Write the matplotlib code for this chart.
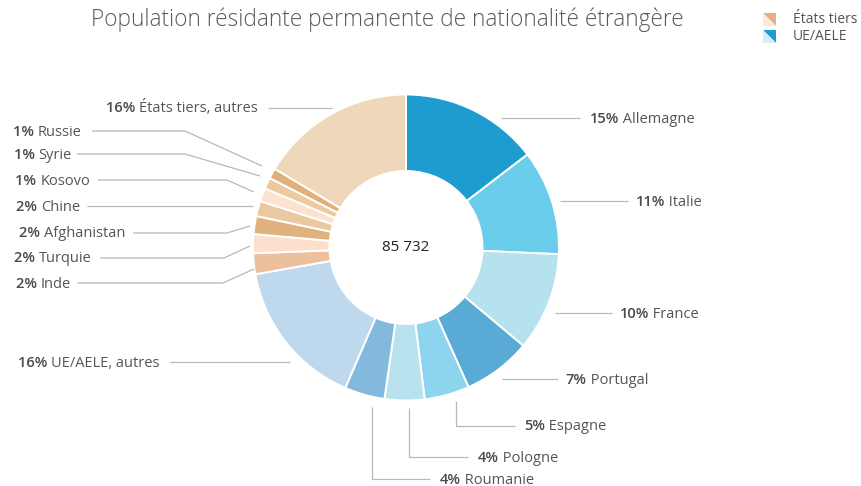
import matplotlib
matplotlib.use("Agg")
import matplotlib.pyplot as plt
from matplotlib.patches import Polygon

# ── data ──────────────────────────────────────────────────────────────────────
TOTAL = "85 732"
names = ["Allemagne", "Italie", "France", "Portugal", "Espagne", "Pologne",
         "Roumanie", "UE/AELE, autres", "Inde", "Turquie", "Afghanistan",
         "Chine", "Kosovo", "Syrie", "Russie", "États tiers, autres"]
shares = [14.6, 11.1, 10.4, 7.2, 4.75, 4.2, 4.25, 15.7,
          2.2, 2.0, 1.9, 1.6, 1.4, 1.2, 1.1, 16.4]
colors = ["#1e9bcf", "#6acdec", "#b6e2ef", "#5aaad6", "#8dd5ee", "#b7e2ee",
          "#84b9de", "#bed8ee", "#ebc09c", "#fde0cb", "#e0b27f", "#eac8a0",
          "#fde2d0", "#ebcaa0", "#e0b07c", "#eed8b9"]
legend_names = ["États tiers", "UE/AELE"]
legend_cols = [("#e3b27f", "#fbe8d6"), ("#1e9bcf", "#d6eef8")]

# ── layout (pixel coordinates) ───────────────────────────────────────────────
CX, CY, R = 406, 247.5, 153
# side, text anchor x, y, leader polyline
label_layout = [
    ("r", 590, 118, [(501, 118), (580, 118)]),
    ("r", 636, 201, [(560, 201), (628, 201)]),
    ("r", 620, 313, [(555, 313), (612, 313)]),
    ("r", 566, 379, [(502, 379), (558, 379)]),
    ("r", 524, 426, [(456, 401), (456, 426), (515, 426)]),
    ("r", 478, 457, [(409, 408), (409, 457), (468, 457)]),
    ("r", 440, 479, [(372, 407), (372, 479), (430, 479)]),
    ("l", 160, 362, [(170, 362), (290, 362)]),
    ("l", 71, 283, [(77, 283), (223, 283), (254, 269)]),
    ("l", 92, 257, [(100, 258), (224, 258), (250, 246)]),
    ("l", 125, 232, [(133, 233), (227, 233), (250, 226)]),
    ("l", 80, 206, [(87, 206), (253, 206)]),
    ("l", 90, 180, [(98, 180), (227, 180), (254, 192)]),
    ("l", 72, 154, [(77, 154), (185, 154), (260, 176)]),
    ("l", 82, 131, [(92, 131), (185, 131), (262, 166)]),
    ("l", 258, 107, [(268, 108), (332, 108)]),
]

FONT = "Open Sans"
TXT = "#555555"
FS = 10.5
BASE = 4.5   # baseline offset below the line y (px)

fig = plt.figure(figsize=(8.62, 4.86), dpi=100)
ax = fig.add_axes([0, 0, 1, 1])

ax.pie(shares, colors=colors, center=(CX, CY), radius=R,
       startangle=-90, counterclock=True,
       wedgeprops=dict(width=R * 0.5, edgecolor="white", linewidth=1.4))
ax.set_xlim(0, 862)
ax.set_ylim(486, 0)
ax.set_aspect("equal")
ax.axis("off")

ax.text(CX, CY, TOTAL, ha="center", va="center", fontsize=11,
        color="#222222", family=FONT)

ax.text(387, 20, "Population résidante permanente de nationalité étrangère",
        ha="center", va="center", fontsize=16.3, color="#5a5a5a",
        family=FONT, fontweight="light")

# ── labels with leader lines ─────────────────────────────────────────────────
for name, val, (side, tx, ty, pts) in zip(names, shares, label_layout):
    xs, ys = zip(*pts)
    ax.plot(xs, ys, color="#b8b8b8", linewidth=0.9, solid_capstyle="butt")
    pct = f"{round(val):.0f}%"
    yb = ty + BASE
    if side == "r":
        p = ax.text(tx, yb, pct, ha="left", va="baseline", fontsize=FS,
                    color="#4a4a4a", family=FONT, fontweight="semibold")
        ax.annotate(" " + name, xy=(1, yb), xycoords=(p, "data"),
                    ha="left", va="baseline",
                    fontsize=FS, color=TXT, family=FONT)
    else:
        n = ax.text(tx, yb, name, ha="right", va="baseline", fontsize=FS,
                    color=TXT, family=FONT)
        ax.annotate(pct + " ", xy=(0, yb), xycoords=(n, "data"),
                    ha="right", va="baseline",
                    fontsize=FS, color="#4a4a4a", family=FONT,
                    fontweight="semibold")

# ── legend ───────────────────────────────────────────────────────────────────
for i, (lab, (dark, light)) in enumerate(zip(legend_names, legend_cols)):
    x0, y0, s = 763, 13 + i * 17, 13
    ax.add_patch(Polygon([(x0, y0), (x0 + s, y0), (x0 + s, y0 + s)],
                         closed=True, facecolor=dark, edgecolor="none"))
    ax.add_patch(Polygon([(x0, y0), (x0 + s, y0 + s), (x0, y0 + s)],
                         closed=True, facecolor=light, edgecolor="none"))
    ax.text(793, y0 + s / 2, lab, ha="left", va="center", fontsize=10,
            color=TXT, family=FONT)

fig.savefig("out.png", dpi=100, facecolor="white")
